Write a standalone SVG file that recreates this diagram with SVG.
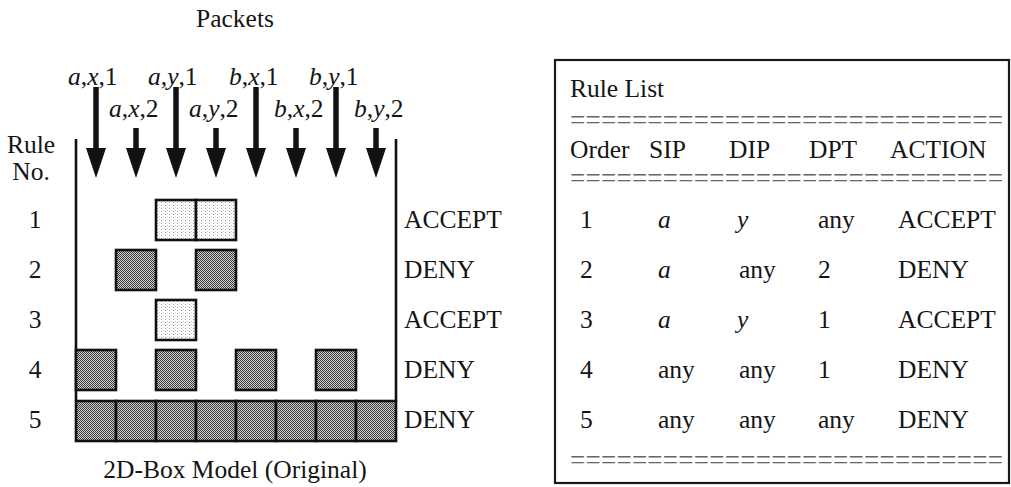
<svg xmlns="http://www.w3.org/2000/svg" width="1011" height="487" viewBox="0 0 1011 487" font-family="Liberation Serif, Times New Roman, serif">
  <defs>
    <style>
      text { font-family: "Liberation Serif", "Times New Roman", serif; font-size: 25.5px; fill: #151515; }
      .it { font-style: italic; }
      .box { stroke: #111; stroke-width: 2.6; }
      .accept { fill: url(#lightDots); }
      .deny { fill: url(#darkCheck); }
      .wall { stroke: #111; stroke-width: 2.6; fill: none; }
      .shaft { stroke: #111; stroke-width: 5.5; marker-end: url(#head); }
      .eq { font-size: 27px; fill: #666; }
    </style>
    <!-- fine light dot screen for ACCEPT cells -->
    <pattern id="lightDots" width="4" height="3" patternUnits="userSpaceOnUse">
      <rect width="4" height="3" fill="#ffffff"/>
      <rect x="1" y="1" width="1" height="1" fill="#9a9a9a"/>
      <rect x="3" y="0" width="1" height="1" fill="#d4d4d4"/>
    </pattern>
    <!-- dense checker screen for DENY cells -->
    <pattern id="darkCheck" width="2" height="2" patternUnits="userSpaceOnUse">
      <rect width="2" height="2" fill="#cfcfcf"/>
      <rect x="0" y="0" width="1" height="1" fill="#3c3c3c"/>
      <rect x="1" y="1" width="1" height="1" fill="#3c3c3c"/>
    </pattern>
    <marker id="head" viewBox="0 0 30 20" refX="1" refY="10" markerWidth="30" markerHeight="20" markerUnits="userSpaceOnUse" orient="auto">
      <path d="M0,0 L30,10 L0,20 z" fill="#111"/>
    </marker>
  </defs>

  <rect width="1011" height="487" fill="#ffffff"/>

  <!-- 2D box model -->
  <g id="box-model">
    <text x="235" y="27" text-anchor="middle">Packets</text>
    <text x="31" y="153" text-anchor="middle">Rule</text>
    <text x="31" y="180" text-anchor="middle">No.</text>

    <!-- side walls -->
    <line class="wall" x1="76" y1="139" x2="76" y2="401"/>
    <line class="wall" x1="396" y1="139" x2="396" y2="401"/>

    <!-- packet labels -->
    <g id="packet-labels">
      <text x="68" y="85"><tspan class="it">a</tspan>,<tspan class="it">x</tspan>,1</text>
      <text x="148" y="85"><tspan class="it">a</tspan>,<tspan class="it">y</tspan>,1</text>
      <text x="229" y="85"><tspan class="it">b</tspan>,<tspan class="it">x</tspan>,1</text>
      <text x="309" y="85"><tspan class="it">b</tspan>,<tspan class="it">y</tspan>,1</text>
      <text x="109" y="117"><tspan class="it">a</tspan>,<tspan class="it">x</tspan>,2</text>
      <text x="189" y="117"><tspan class="it">a</tspan>,<tspan class="it">y</tspan>,2</text>
      <text x="274" y="117"><tspan class="it">b</tspan>,<tspan class="it">x</tspan>,2</text>
      <text x="354" y="117"><tspan class="it">b</tspan>,<tspan class="it">y</tspan>,2</text>
    </g>

    <!-- rule numbers -->
    <g id="rule-numbers">
      <text x="35" y="228" text-anchor="middle">1</text>
      <text x="35" y="278" text-anchor="middle">2</text>
      <text x="35" y="328" text-anchor="middle">3</text>
      <text x="35" y="378" text-anchor="middle">4</text>
      <text x="35" y="428" text-anchor="middle">5</text>
    </g>

    <!-- rule 1: a,y,* ACCEPT -->
    <g id="rule1">
      <rect class="box accept" x="156" y="200" width="40" height="40"/>
      <rect class="box accept" x="196" y="200" width="40" height="40"/>
      <text x="404" y="228">ACCEPT</text>
    </g>
    <!-- rule 2: a,*,2 DENY -->
    <g id="rule2">
      <rect class="box deny" x="116" y="250" width="40" height="40"/>
      <rect class="box deny" x="196" y="250" width="40" height="40"/>
      <text x="404" y="278">DENY</text>
    </g>
    <!-- rule 3: a,y,1 ACCEPT -->
    <g id="rule3">
      <rect class="box accept" x="156" y="300" width="40" height="40"/>
      <text x="404" y="328">ACCEPT</text>
    </g>
    <!-- rule 4: *,*,1 DENY -->
    <g id="rule4">
      <rect class="box deny" x="76" y="350" width="40" height="40"/>
      <rect class="box deny" x="156" y="350" width="40" height="40"/>
      <rect class="box deny" x="236" y="350" width="40" height="40"/>
      <rect class="box deny" x="316" y="350" width="40" height="40"/>
      <text x="404" y="378">DENY</text>
    </g>
    <!-- rule 5: default DENY -->
    <g id="rule5">
      <rect class="box deny" x="76" y="401" width="40" height="40"/>
      <rect class="box deny" x="116" y="401" width="40" height="40"/>
      <rect class="box deny" x="156" y="401" width="40" height="40"/>
      <rect class="box deny" x="196" y="401" width="40" height="40"/>
      <rect class="box deny" x="236" y="401" width="40" height="40"/>
      <rect class="box deny" x="276" y="401" width="40" height="40"/>
      <rect class="box deny" x="316" y="401" width="40" height="40"/>
      <rect class="box deny" x="356" y="401" width="40" height="40"/>
      <text x="404" y="428">DENY</text>
    </g>

    <text x="235" y="478" text-anchor="middle">2D-Box Model (Original)</text>
  </g>

  <!-- packet arrows -->
  <g id="connectors">
    <line class="shaft" x1="96" y1="87" x2="96" y2="149"/>
    <line class="shaft" x1="136" y1="128" x2="136" y2="149"/>
    <line class="shaft" x1="176" y1="87" x2="176" y2="149"/>
    <line class="shaft" x1="216" y1="128" x2="216" y2="149"/>
    <line class="shaft" x1="256" y1="87" x2="256" y2="149"/>
    <line class="shaft" x1="296" y1="128" x2="296" y2="149"/>
    <line class="shaft" x1="336" y1="87" x2="336" y2="149"/>
    <line class="shaft" x1="376" y1="128" x2="376" y2="149"/>
  </g>

  <!-- rule list table -->
  <g id="rule-list">
    <rect x="555" y="60" width="454" height="423" fill="none" stroke="#1a1a1a" stroke-width="2.2"/>
    <text x="570" y="97">Rule List</text>
    <text class="eq" x="570" y="129" textLength="433" lengthAdjust="spacing">============================</text>
    <text x="570" y="158">Order</text>
    <text x="649" y="158">SIP</text>
    <text x="729" y="158">DIP</text>
    <text x="809" y="158">DPT</text>
    <text x="890" y="158">ACTION</text>
    <text class="eq" x="570" y="187" textLength="433" lengthAdjust="spacing">============================</text>

    <g id="row1">
      <text x="580" y="228">1</text>
      <text x="658" y="228" class="it">a</text>
      <text x="737" y="228" class="it">y</text>
      <text x="818" y="228">any</text>
      <text x="898" y="228">ACCEPT</text>
    </g>
    <g id="row2">
      <text x="580" y="278">2</text>
      <text x="658" y="278" class="it">a</text>
      <text x="739" y="278">any</text>
      <text x="818" y="278">2</text>
      <text x="898" y="278">DENY</text>
    </g>
    <g id="row3">
      <text x="580" y="328">3</text>
      <text x="658" y="328" class="it">a</text>
      <text x="737" y="328" class="it">y</text>
      <text x="818" y="328">1</text>
      <text x="898" y="328">ACCEPT</text>
    </g>
    <g id="row4">
      <text x="580" y="378">4</text>
      <text x="658" y="378">any</text>
      <text x="739" y="378">any</text>
      <text x="818" y="378">1</text>
      <text x="898" y="378">DENY</text>
    </g>
    <g id="row5">
      <text x="580" y="428">5</text>
      <text x="658" y="428">any</text>
      <text x="739" y="428">any</text>
      <text x="818" y="428">any</text>
      <text x="898" y="428">DENY</text>
    </g>
    <text class="eq" x="570" y="469" textLength="433" lengthAdjust="spacing">============================</text>
  </g>
</svg>
